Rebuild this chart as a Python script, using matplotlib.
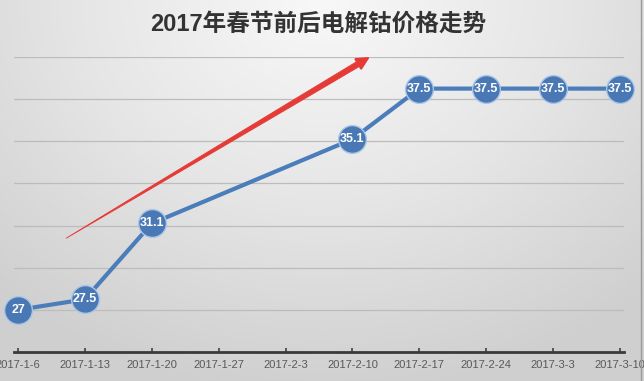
import numpy as np
import matplotlib.pyplot as plt
from matplotlib.colors import LinearSegmentedColormap
from matplotlib.lines import Line2D

plt.rcParams['font.family'] = ['Liberation Sans Narrow', 'Liberation Sans', 'Noto Sans CJK SC', 'DejaVu Sans']

# categories on the x axis (weekly dates)
dates = ["2017-1-6", "2017-1-13", "2017-1-20", "2017-1-27", "2017-2-3",
         "2017-2-10", "2017-2-17", "2017-2-24", "2017-3-3", "2017-3-10"]
# price series, no quotes over the Spring Festival weeks
price_dates = ["2017-1-6", "2017-1-13", "2017-1-20", "2017-2-10",
               "2017-2-17", "2017-2-24", "2017-3-3", "2017-3-10"]
prices = [27, 27.5, 31.1, 35.1, 37.5, 37.5, 37.5, 37.5]
price_labels = ["27", "27.5", "31.1", "35.1", "37.5", "37.5", "37.5", "37.5"]

# trend arrow (category index, value)
arrow_start = (0.72, 30.4)
arrow_end = (5.26, 39.0)

title = "2017年春节前后电解钴价格走势"

fig = plt.figure(figsize=(6.44, 3.81), dpi=100)

# gradient background, light at top centre
bg = fig.add_axes([0, 0, 1, 1], zorder=-10)
gx, gy = np.meshgrid(np.linspace(0, 1, 300), np.linspace(0, 1, 200))
r = np.sqrt(((gx - 0.5) / 0.75) ** 2 + (gy / 1.05) ** 2)
r = np.clip(r, 0, 1)
cmap = LinearSegmentedColormap.from_list("bg", ["#f8f8f8", "#e6e6e6", "#cfcfcf"])
bg.imshow(r, cmap=cmap, aspect="auto", extent=[0, 1, 1, 0], vmin=0, vmax=1)
bg.set_axis_off()

ax = fig.add_axes([14 / 644, 29 / 381, 610 / 644, 295 / 381])
ax.patch.set_alpha(0)

xpos = [dates.index(d) for d in price_dates]
ax.plot(xpos, prices, "-", color="#4a7dba", lw=3, zorder=3, clip_on=False)
ax.plot(xpos, prices, "o", ms=20, color="#4a78b4", mec="#a9c6e8", mew=1.0, zorder=4,
        clip_on=False)
for x, y, lab in zip(xpos, prices, price_labels):
    ax.text(x, y, lab, ha="center", va="center", color="white", fontsize=9,
            fontweight="bold", zorder=5)

# red trend arrow: tapering shaft plus head
ax.annotate("", xy=arrow_start, xytext=arrow_end,
            arrowprops=dict(arrowstyle="wedge,tail_width=0.4,shrink_factor=0.6",
                            color="#e53a35", lw=0.6, shrinkA=6, shrinkB=0), zorder=6)
head_base = (arrow_end[0] - 0.04 * (arrow_end[0] - arrow_start[0]),
             arrow_end[1] - 0.04 * (arrow_end[1] - arrow_start[1]))
ax.annotate("", xy=arrow_end, xytext=head_base,
            arrowprops=dict(arrowstyle="-|>,head_length=0.8,head_width=0.4",
                            color="#e53a35", lw=1.5, shrinkA=0, shrinkB=0), zorder=6)

ax.set_xlim(-0.06, 9.06)
ax.set_ylim(25, 39)
ax.set_yticks(np.arange(27, 40, 2))
ax.yaxis.grid(True, color="#bcbcbc", lw=0.9)
ax.set_axisbelow(True)
ax.tick_params(axis="y", left=False, labelleft=False)
ax.set_xticks(range(len(dates)))
ax.set_xticklabels(dates, fontsize=8, color="#595959")
ax.tick_params(axis="x", direction="in", length=3, width=1.2, color="#404040", pad=6)
for s in ["top", "right", "left"]:
    ax.spines[s].set_visible(False)
ax.spines["bottom"].set_color("#3a3a3a")
ax.spines["bottom"].set_linewidth(2)

fig.text(0.494, 0.937, title, ha="center", va="center", fontsize=17,
         fontweight="bold", color="#333333",
         family=["Liberation Sans", "Noto Sans CJK SC", "DejaVu Sans"])

# thin border at the right edge of the picture
fig.add_artist(Line2D([641 / 644, 641 / 644], [0, 1], color="#9a9a9a", lw=1))

fig.savefig("out.png", dpi=100)
